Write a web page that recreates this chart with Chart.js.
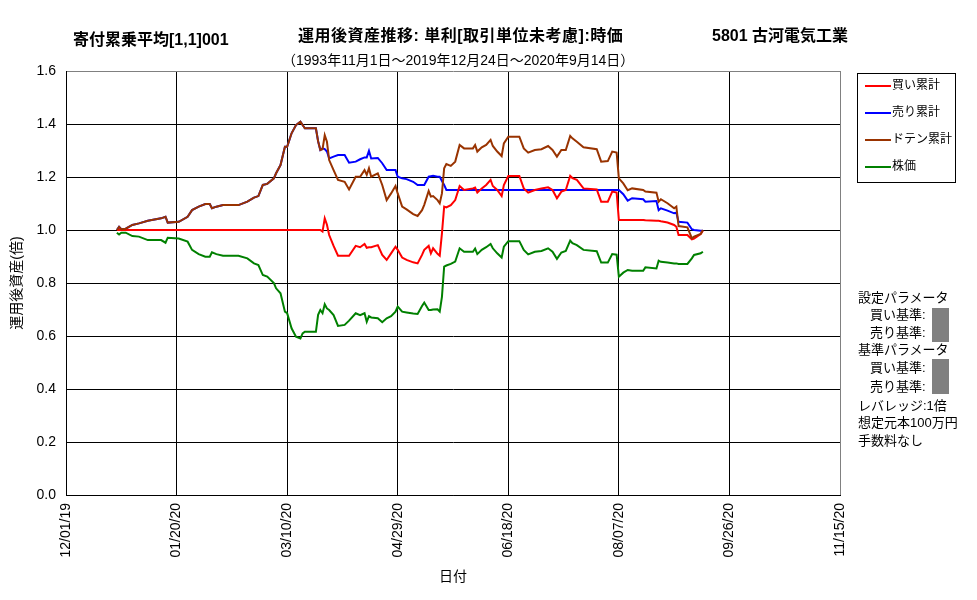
<!DOCTYPE html>
<html>
<head>
<meta charset="utf-8">
<script src="https://cdn.jsdelivr.net/npm/chart.js@4.4.0/dist/chart.umd.min.js"></script>
<style>
body { margin: 0; background: #fff; }
#wrap { position: relative; width: 977px; height: 600px; font-family: "Liberation Sans", "Noto Sans CJK JP", sans-serif; color: #000; }
#chart { position: absolute; left: 0; top: 0; }
.t { position: absolute; white-space: nowrap; line-height: 1; }
.b { font-weight: bold; font-size: 16px; }
.leg { position: absolute; left: 857px; top: 73px; width: 97px; height: 108px; border: 1px solid #000; }
.sw { position: absolute; left: 865px; width: 26px; height: 2px; }
.p { font-size: 13px; }
.lt { font-size: 12px; }
.gray { position: absolute; left: 932px; width: 17px; background: #808080; }
</style>
</head>
<body>
<div id="wrap">
  <canvas id="chart" width="977" height="600"></canvas>
  <div class="t b" style="left:73px;top:32px;">寄付累乗平均[1,1]001</div>
  <div class="t b" style="left:298px;top:28px;letter-spacing:0.5px;">運用後資産推移: 単利[取引単位未考慮]:時価</div>
  <div class="t b" style="left:712px;top:28px;">5801 古河電気工業</div>
  <div class="t" style="left:282px;top:53px;font-size:14px;">（1993年11月1日～2019年12月24日～2020年9月14日）</div>

  <div class="leg"></div>
  <div id="legendItems"></div>

  <div class="t p" style="left:858px;top:291px;">設定パラメータ</div>
  <div class="t p" style="left:870px;top:308px;">買い基準:</div>
  <div class="t p" style="left:870px;top:326px;">売り基準:</div>
  <div class="t p" style="left:858px;top:343px;">基準パラメータ</div>
  <div class="t p" style="left:870px;top:361px;">買い基準:</div>
  <div class="t p" style="left:870px;top:380px;">売り基準:</div>
  <div class="t p" style="left:858px;top:399px;">レバレッジ:1倍</div>
  <div class="t p" style="left:858px;top:416px;">想定元本100万円</div>
  <div class="t p" style="left:858px;top:434px;">手数料なし</div>
  <div class="gray" style="top:308px;height:34px;"></div>
  <div class="gray" style="top:359px;height:35px;"></div>
</div>
<script>
// days since 12/01/19
const days = [23, 24, 25, 27, 30, 33, 37, 43, 45, 46, 51, 55, 57, 60, 63, 65, 66, 68, 71, 78,
  82, 85, 87, 89, 91, 94, 95, 97, 99, 100, 102, 104, 106, 107, 108, 113, 114, 115, 116, 117,
  118, 119, 121, 123, 126, 128, 131, 133, 135, 136, 137, 138, 141, 143, 145, 147, 149, 150, 152, 154,
  157, 159, 161, 162, 164, 165, 166, 168, 169, 170, 171, 172, 174, 176, 178, 180, 184, 185, 186, 188,
  190, 192, 193, 195, 197, 198, 200, 205, 207, 209, 212, 215, 218, 220, 222, 224, 226, 228, 229, 231,
  234, 240, 242, 245, 247, 249, 250, 252, 254, 256, 261, 262, 267, 268, 269, 272, 275, 276, 277, 281,
  283, 284, 287, 288];

const buyCum = [1.0, 1.0, 1.0, 1.0, 1.0, 1.0, 1.0, 1.0, 1.0, 1.0, 1.0, 1.0, 1.0, 1.0, 1.0, 1.0, 1.0, 1.0, 1.0, 1.0,
  1.0, 1.0, 1.0, 1.0, 1.0, 1.0, 1.0, 1.0, 1.0, 1.0, 1.0, 1.0, 1.0, 1.0, 1.0, 1.0, 1.0, 1.0, 0.994, 1.044,
  1.02, 0.981, 0.94, 0.903, 0.903, 0.903, 0.94, 0.935, 0.947, 0.933, 0.935, 0.935, 0.943, 0.906, 0.887, 0.912, 0.937, 0.925, 0.896, 0.887,
  0.878, 0.874, 0.906, 0.925, 0.94, 0.912, 0.931, 0.91, 0.903, 0.987, 1.088, 1.085, 1.094, 1.113, 1.166, 1.151, 1.157, 1.16, 1.141, 1.157,
  1.17, 1.189, 1.166, 1.151, 1.128, 1.17, 1.204, 1.204, 1.157, 1.141, 1.151, 1.157, 1.161, 1.151, 1.12, 1.145, 1.151, 1.204, 1.196, 1.189,
  1.157, 1.153, 1.107, 1.107, 1.145, 1.141, 1.038, 1.038, 1.038, 1.038, 1.038, 1.037, 1.035, 1.035, 1.033, 1.028, 1.019, 1.012, 0.981, 0.981,
  0.965, 0.968, 0.985, 0.997];

const sellCum = [1.0, 1.012, 1.003, 1.005, 1.019, 1.025, 1.035, 1.044, 1.05, 1.028, 1.031, 1.05, 1.075, 1.088, 1.098, 1.098, 1.082, 1.088, 1.094, 1.094,
  1.107, 1.122, 1.128, 1.17, 1.174, 1.195, 1.214, 1.245, 1.314, 1.314, 1.365, 1.396, 1.409, 1.396, 1.384, 1.384, 1.335, 1.302, 1.308, 1.305,
  1.296, 1.27, 1.277, 1.283, 1.283, 1.254, 1.258, 1.267, 1.274, 1.274, 1.299, 1.27, 1.272, 1.252, 1.226, 1.226, 1.226, 1.201, 1.195, 1.192,
  1.182, 1.17, 1.17, 1.17, 1.201, 1.203, 1.205, 1.201, 1.201, 1.185, 1.17, 1.151, 1.151, 1.151, 1.151, 1.151, 1.151, 1.151, 1.151, 1.151,
  1.151, 1.151, 1.151, 1.151, 1.151, 1.151, 1.151, 1.151, 1.151, 1.151, 1.151, 1.151, 1.151, 1.151, 1.151, 1.151, 1.151, 1.151, 1.151, 1.151,
  1.151, 1.151, 1.151, 1.151, 1.151, 1.151, 1.151, 1.135, 1.111, 1.12, 1.116, 1.107, 1.109, 1.075, 1.082, 1.073, 1.063, 1.065, 1.031, 1.028,
  1.003, 1.0, 0.997, 0.997];

const dotenCum = [1.0, 1.012, 1.003, 1.005, 1.019, 1.025, 1.035, 1.044, 1.05, 1.028, 1.031, 1.05, 1.075, 1.088, 1.098, 1.098, 1.082, 1.088, 1.094, 1.094,
  1.107, 1.122, 1.128, 1.17, 1.174, 1.195, 1.214, 1.245, 1.314, 1.314, 1.365, 1.396, 1.409, 1.396, 1.384, 1.384, 1.335, 1.302, 1.305, 1.358,
  1.333, 1.264, 1.226, 1.189, 1.182, 1.153, 1.201, 1.201, 1.226, 1.208, 1.233, 1.201, 1.214, 1.17, 1.113, 1.138, 1.166, 1.138, 1.088, 1.078,
  1.06, 1.053, 1.075, 1.095, 1.147, 1.126, 1.128, 1.113, 1.101, 1.138, 1.233, 1.249, 1.242, 1.258, 1.321, 1.308, 1.308, 1.321, 1.296, 1.312,
  1.321, 1.34, 1.317, 1.296, 1.279, 1.327, 1.352, 1.352, 1.308, 1.292, 1.302, 1.305, 1.317, 1.302, 1.277, 1.302, 1.302, 1.355, 1.346, 1.333,
  1.312, 1.305, 1.258, 1.26, 1.296, 1.292, 1.195, 1.176, 1.15, 1.157, 1.151, 1.145, 1.141, 1.107, 1.116, 1.101, 1.082, 1.088, 1.015, 1.01,
  0.969, 0.975, 0.985, 1.0];

const price = [0.99, 0.983, 0.99, 0.99, 0.977, 0.975, 0.962, 0.962, 0.952, 0.971, 0.968, 0.956, 0.925, 0.909, 0.899, 0.899, 0.916, 0.909, 0.903, 0.903,
  0.893, 0.874, 0.868, 0.83, 0.824, 0.80, 0.78, 0.761, 0.692, 0.686, 0.629, 0.597, 0.591, 0.61, 0.616, 0.616, 0.68, 0.698, 0.686, 0.72,
  0.704, 0.698, 0.679, 0.638, 0.642, 0.658, 0.686, 0.679, 0.686, 0.654, 0.675, 0.67, 0.667, 0.652, 0.667, 0.675, 0.692, 0.711, 0.692, 0.689,
  0.685, 0.683, 0.713, 0.726, 0.698, 0.698, 0.70, 0.701, 0.692, 0.748, 0.862, 0.866, 0.872, 0.881, 0.931, 0.918, 0.918, 0.93, 0.909, 0.925,
  0.935, 0.947, 0.931, 0.912, 0.896, 0.937, 0.958, 0.958, 0.925, 0.908, 0.918, 0.921, 0.931, 0.918, 0.891, 0.915, 0.921, 0.96, 0.95, 0.943,
  0.925, 0.92, 0.877, 0.877, 0.909, 0.907, 0.824, 0.839, 0.849, 0.846, 0.846, 0.859, 0.855, 0.884, 0.88, 0.877, 0.874, 0.874, 0.872, 0.872,
  0.893, 0.906, 0.912, 0.918];

const xTickLabels = ['12/01/19', '01/20/20', '03/10/20', '04/29/20', '06/18/20', '08/07/20', '09/26/20', '11/15/20'];

const seriesNames = ['買い累計', '売り累計', 'ドテン累計', '株価'];
const seriesColors = ['#ff0000', '#0000ff', '#993300', '#008000'];
const seriesOrder = [2, 3, 1, 0];

function pts(vals) {
  return vals.map((v, i) => ({ x: days[i], y: v }));
}

const allSeries = [buyCum, sellCum, dotenCum, price];

// legend
const legendEl = document.getElementById('legendItems');
const legendY = [86, 113, 140, 167];
seriesNames.forEach((name, i) => {
  const sw = document.createElement('div');
  sw.className = 'sw';
  sw.style.top = (legendY[i] - 1) + 'px';
  sw.style.background = seriesColors[i];
  legendEl.appendChild(sw);
  const tx = document.createElement('div');
  tx.className = 't lt';
  tx.style.left = '892px';
  tx.style.top = (legendY[i] - 7) + 'px';
  tx.textContent = name;
  legendEl.appendChild(tx);
});

const fontFam = '"Liberation Sans", "Noto Sans CJK JP", sans-serif';

new Chart(document.getElementById('chart').getContext('2d'), {
  type: 'line',
  data: {
    datasets: allSeries.map((vals, i) => ({
      label: seriesNames[i],
      data: pts(vals),
      borderColor: seriesColors[i],
      borderWidth: 2,
      pointRadius: 0,
      tension: 0,
      fill: false,
      order: seriesOrder[i]
    }))
  },
  options: {
    responsive: false,
    animation: false,
    devicePixelRatio: 1,
    layout: { padding: { left: 0, right: 137, top: 71, bottom: 0 } },
    plugins: { legend: { display: false }, tooltip: { enabled: false } },
    scales: {
      x: {
        type: 'linear',
        min: 0,
        max: 350,
        afterFit: s => { s.height = 105; },
        afterBuildTicks: s => { s.ticks = xTickLabels.map((l, i) => ({ value: i * 50 })); },
        ticks: {
          stepSize: 50,
          minRotation: 90,
          maxRotation: 90,
          padding: 8,
          color: '#000',
          font: { family: fontFam, size: 14 },
          callback: (v, i) => xTickLabels[i]
        },
        grid: {
          drawTicks: false,
          color: ctx => (ctx.index === xTickLabels.length - 1 ? '#808080' : '#000'),
          lineWidth: 1
        },
        border: { color: '#000', width: 1 },
        title: {
          display: true,
          text: '日付',
          color: '#000',
          font: { family: fontFam, size: 14 },
          padding: { top: 0, bottom: 14 }
        }
      },
      y: {
        min: 0,
        max: 1.6,
        afterFit: s => { s.width = 66; },
        ticks: {
          stepSize: 0.2,
          padding: 10,
          color: '#000',
          font: { family: fontFam, size: 14 },
          callback: v => v.toFixed(1)
        },
        grid: {
          drawTicks: false,
          color: ctx => (ctx.tick && Math.abs(ctx.tick.value - 1.6) < 1e-6 ? '#808080' : '#000'),
          lineWidth: 1
        },
        border: { color: '#000', width: 1 },
        title: {
          display: true,
          text: '運用後資産(倍)',
          color: '#000',
          font: { family: fontFam, size: 14 },
          padding: { top: 9, bottom: 0 }
        }
      }
    }
  }
});
</script>
</body>
</html>
